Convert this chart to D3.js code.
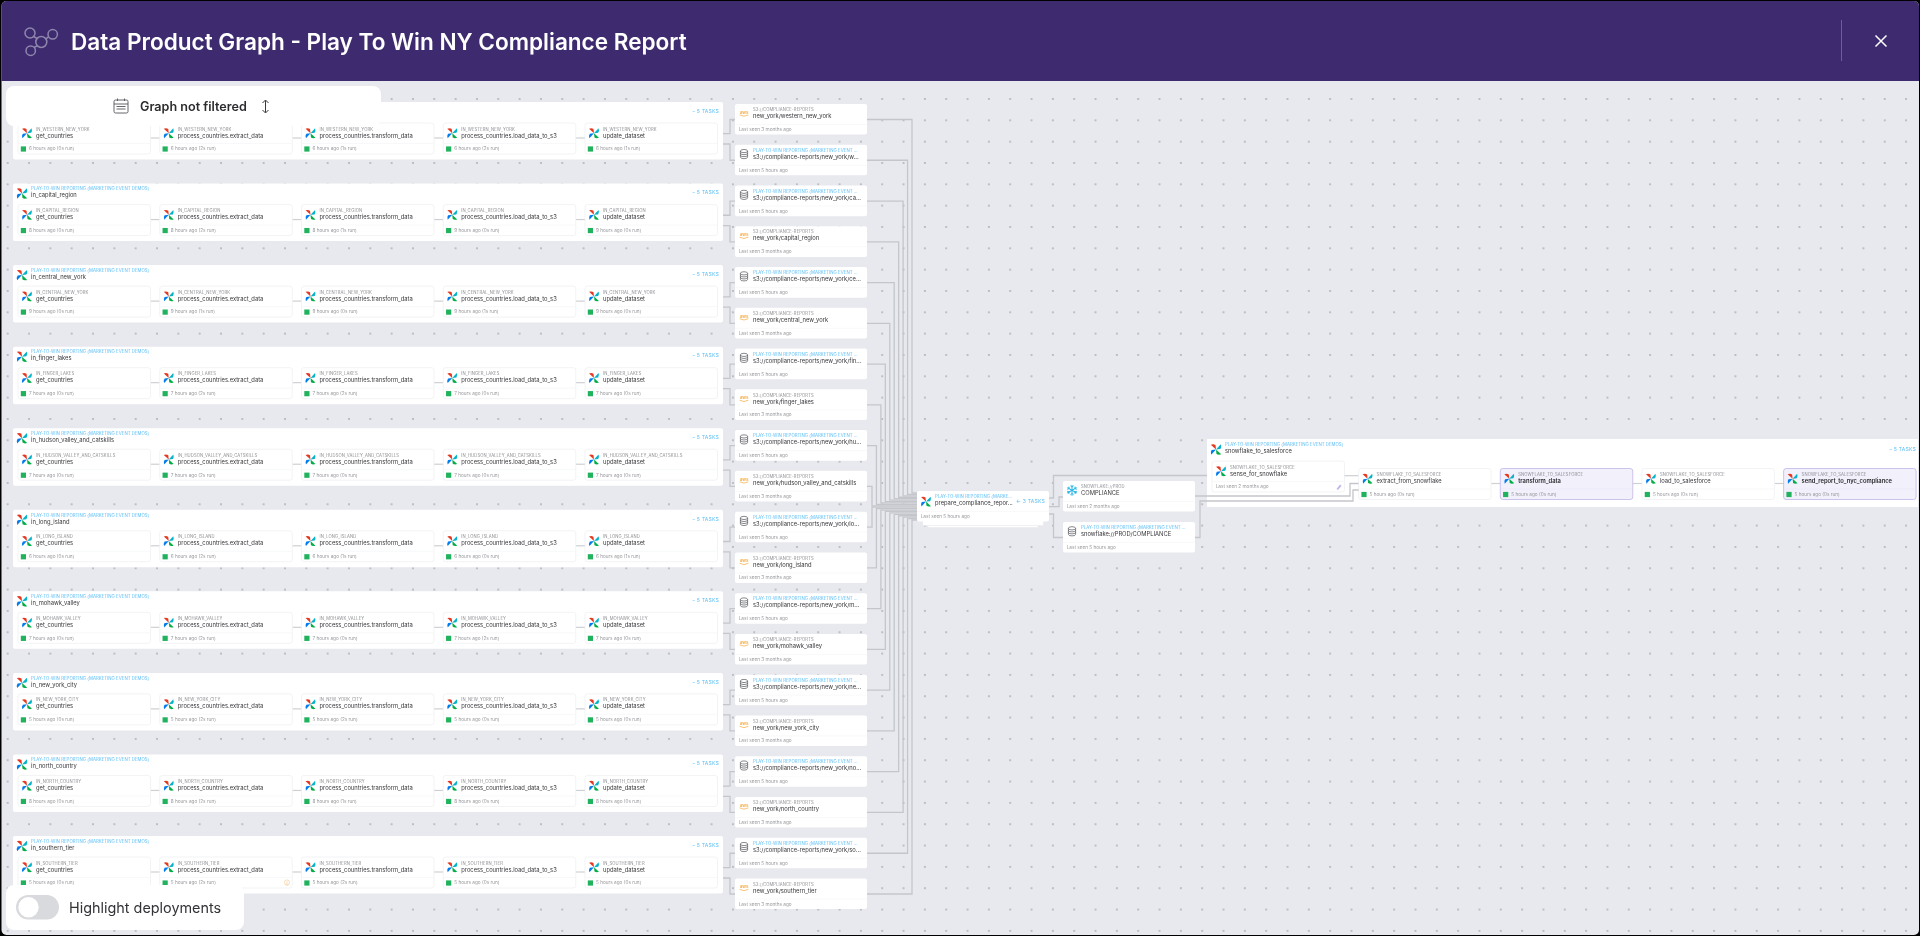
<!DOCTYPE html>
<html>
<head>
<meta charset="utf-8">
<script src="https://cdnjs.cloudflare.com/ajax/libs/d3/7.8.5/d3.min.js"></script>
<style>
  html, body { margin: 0; padding: 0; background: #000; overflow: hidden; }
  svg { display: block; font-family: Inter, "Noto Sans", sans-serif; filter: blur(0.3px); }
  .label  { font-size: 4.35px; fill: #62c0f7; letter-spacing: 0.02px; }
  .sub    { font-size: 4.2px; fill: #8f9095; letter-spacing: 0.1px; }
  .name   { font-size: 5.8px; fill: #38383c; }
  .time   { font-size: 4.7px; fill: #97989c; }
  .tasks  { font-size: 5.1px; fill: #62c0f7; letter-spacing: 0.2px; }
  .bold   { font-weight: 600; fill: #26262a; }
</style>
</head>
<body>
<svg id="chart" width="1920" height="936"></svg>
<script>
const regions = ["western_new_york", "capital_region", "central_new_york", "finger_lakes", "hudson_valley_and_catskills",
  "long_island", "mohawk_valley", "new_york_city", "north_country", "southern_tier"];
const taskNames = ["get_countries", "process_countries.extract_data", "process_countries.transform_data",
  "process_countries.load_data_to_s3", "update_dataset"];
const regionHours = [
  [6, 6, 6, 6, 6], [8, 8, 8, 9, 9], [9, 9, 9, 9, 9], [7, 7, 7, 7, 7], [7, 7, 7, 7, 7],
  [6, 6, 6, 6, 6], [7, 7, 7, 7, 7], [5, 5, 5, 5, 5], [8, 8, 8, 8, 8], [5, 5, 5, 5, 5]
];
const regionRuns = [
  [0, 2, 1, 2, 1], [0, 2, 1, 0, 0], [0, 1, 0, 1, 0], [0, 2, 2, 0, 0], [0, 2, 0, 0, 0],
  [0, 2, 1, 0, 1], [0, 2, 0, 2, 0], [0, 2, 2, 0, 0], [0, 2, 1, 0, 0], [0, 2, 2, 0, 0]
];
const nodeNames = [
  "new_york/western_new_york", "s3://compliance-reports/new_york/w...",
  "s3://compliance-reports/new_york/ca...", "new_york/capital_region",
  "s3://compliance-reports/new_york/ce...", "new_york/central_new_york",
  "s3://compliance-reports/new_york/fin...", "new_york/finger_lakes",
  "s3://compliance-reports/new_york/hu...", "new_york/hudson_valley_and_catskills",
  "s3://compliance-reports/new_york/lo...", "new_york/long_island",
  "s3://compliance-reports/new_york/m...", "new_york/mohawk_valley",
  "s3://compliance-reports/new_york/ne...", "new_york/new_york_city",
  "s3://compliance-reports/new_york/no...", "new_york/north_country",
  "s3://compliance-reports/new_york/so...", "new_york/southern_tier"
];
const bladeColors = ["#e43921", "#04b3c9", "#00ad46", "#017cee"];
const snowTasks = ["extract_from_snowflake", "transform_data", "load_to_salesforce", "send_report_to_nyc_compliance"];
const snowHighlighted = [false, true, false, true];
const GROUP_LABEL = "PLAY-TO-WIN REPORTING (MARKETING EVENT DEMOS)";
const NODE_LABEL = "PLAY-TO-WIN REPORTING (MARKETING EVENT ...";

const svg = d3.select("#chart");

const groupY = d3.scaleLinear().domain([0, 9]).range([102, 836]);
const taskX = d3.scaleLinear().domain([0, 4]).range([18, 585]);
const nodeY = d3.scaleLinear().domain([0, 19]).range([104, 878.5]);
const channelX = d3.scaleLinear().domain([0.5, 9.5]).range([872, 912]);
const fanY = d3.scaleLinear().domain([-9.5, 9.5]).range([493, 520]);
const snowX = d3.scaleLinear().domain([0, 3]).range([1358.6, 1783.6]);

const edgeLine = d3.line();
const CARD_W = 132.5, CARD_H = 31, NODE_W = 132;

function txt(g, x, y, s, cls) {
  return g.append("text").attr("x", x).attr("y", y).attr("class", cls).text(s);
}

function pinwheel(g, x, y, k) {
  const w = g.append("g").attr("transform", `translate(${x},${y}) scale(${k})`);
  w.selectAll("path").data(bladeColors).enter().append("path")
    .attr("d", "M0,0 L-5.2,-4.8 Q-2.4,-5.8 -0.5,-4.4 Z")
    .attr("fill", d => d)
    .attr("transform", (d, i) => `rotate(${i * 90})`);
}

function dbIcon(g, x, y) {
  const w = g.append("g").attr("transform", `translate(${x},${y})`)
    .attr("fill", "none").attr("stroke", "#55565c").attr("stroke-width", 0.7);
  w.append("path").attr("d", "M-3.6,-3 A3.6,1.6 0 0 1 3.6,-3 A3.6,1.6 0 0 1 -3.6,-3 V3 A3.6,1.6 0 0 0 3.6,3 V-3");
  w.append("path").attr("d", "M-3.6,-1 A3.6,1.6 0 0 0 3.6,-1 M-3.6,1 A3.6,1.6 0 0 0 3.6,1");
}

function awsIcon(g, x, y) {
  const w = g.append("g").attr("transform", `translate(${x},${y})`);
  w.append("text").attr("text-anchor", "middle").attr("y", 0.6).attr("font-size", 4.4)
    .attr("font-weight", 700).attr("fill", "#f6b04a").text("aws");
  w.append("path").attr("d", "M-4.4,1.6 Q0,4.2 4.4,1.6").attr("fill", "none").attr("stroke", "#f6a93a").attr("stroke-width", 0.7);
}

function snowIcon(g, x, y) {
  const w = g.append("g").attr("transform", `translate(${x},${y})`)
    .attr("stroke", "#29b5e8").attr("stroke-width", 1).attr("fill", "none");
  w.selectAll("path").data(d3.range(6)).enter().append("path")
    .attr("d", "M0,0 V-5.4 M-1.6,-4.6 L0,-3.2 L1.6,-4.6")
    .attr("transform", d => `rotate(${d * 60})`);
}

// one task card: pinwheel, dag name, task name, status row
function taskCard(g, x, y, sub, name, time, highlighted, w) {
  const c = g.append("g").attr("transform", `translate(${x},${y})`);
  c.append("rect").attr("width", w).attr("height", CARD_H).attr("rx", 2.5)
    .attr("fill", highlighted ? "#f2f0fb" : "#fff")
    .attr("stroke", highlighted ? "#b9ace4" : "#eceef1").attr("stroke-width", 0.7);
  c.append("line").attr("x1", 0.5).attr("x2", w - 0.5).attr("y1", 20.5).attr("y2", 20.5)
    .attr("stroke", highlighted ? "#ebe8f7" : "#f4f5f7").attr("stroke-width", 0.7);
  pinwheel(c, 9, 10.3, 0.95);
  txt(c, 18, 7.5, sub, "sub");
  txt(c, 18, 14.6, name, highlighted ? "name bold" : "name");
  if (time) {
    c.append("rect").attr("x", 2.8).attr("y", 23.4).attr("width", 5.2).attr("height", 5.2).attr("fill", "#20b25c");
    txt(c, 11, 27.3, time, "time");
  }
  return c;
}

function nodeCard(g, x, y, w, label, labelCls, name, seen, icon) {
  const c = g.append("g").attr("transform", `translate(${x},${y})`);
  c.append("rect").attr("width", w).attr("height", 30.6).attr("rx", 2).attr("fill", "#fff");
  c.append("line").attr("x1", 0).attr("x2", w).attr("y1", 20.5).attr("y2", 20.5)
    .attr("stroke", "#f6f7f8").attr("stroke-width", 0.7);
  icon(c, 9, 9.3);
  txt(c, 18, 7.2, label, labelCls);
  txt(c, 18, 14.2, name, "name");
  txt(c, 3.7, 27, seen, "time");
  return c;
}

// page ground
svg.append("rect").attr("x", 1.5).attr("y", 1).attr("width", 1917.5).attr("height", 934).attr("rx", 5).attr("fill", "#e8e9ee");

const defs = svg.append("defs");
const pattern = defs.append("pattern").attr("id", "dots").attr("patternUnits", "userSpaceOnUse")
  .attr("width", 21.33).attr("height", 21.33).attr("x", 7.7 - 10.66).attr("y", 13.68 - 10.66);
pattern.append("circle").attr("cx", 10.66).attr("cy", 10.66).attr("r", 0.8).attr("fill", "#83868e");
svg.append("rect").attr("x", 2).attr("y", 82).attr("width", 1916).attr("height", 853).attr("fill", "url(#dots)");

// edges first so the cards sit over them
const edges = svg.append("g").attr("fill", "none").attr("stroke", "#c4c6cc").attr("stroke-width", 1.3);
function edge(points) { edges.append("path").attr("d", edgeLine(points)); }

const groups = svg.append("g");

regions.forEach(function(region, r) {
  const top = groupY(r);
  const g = groups.append("g");
  g.append("rect").attr("x", 13).attr("y", top).attr("width", 710).attr("height", 57.5).attr("rx", 2).attr("fill", "#fff");
  pinwheel(g, 22, top + 10, 1.0);
  txt(g, 31, top + 6.8, GROUP_LABEL, "label");
  txt(g, 31, top + 13.8, "in_" + region, "name");
  txt(g, 719, top + 10.8, "– 5 TASKS", "tasks").attr("text-anchor", "end");

  const cardTop = top + 21;
  taskNames.forEach(function(task, t) {
    if (t < 4) {
      g.append("line").attr("x1", taskX(t) + CARD_W).attr("x2", taskX(t + 1))
        .attr("y1", cardTop + 15).attr("y2", cardTop + 15)
        .attr("stroke", "#cfd0d4").attr("stroke-width", 1.2);
    }
    const time = `${regionHours[r][t]} hours ago (${regionRuns[r][t]}s run)`;
    taskCard(g, taskX(t), cardTop, "IN_" + region.toUpperCase(), task, time, false, CARD_W);
  });

  // update_dataset feeds its two outputs
  const x0 = taskX(4) + CARD_W;
  [10.7, 21].forEach(function(dy, k) {
    const node = r * 2 + k;
    edge([[x0, cardTop + dy], [730, cardTop + dy], [730, nodeY(node) + 15.5], [735, nodeY(node) + 15.5]]);
  });
});

// outputs fan into prepare_compliance_report
nodeNames.forEach(function(name, i) {
  const off = i - 9.5;
  const cx = channelX(Math.abs(off));
  const y = nodeY(i) + 15.5;
  edge([[867, y], [cx, y], [cx, fanY(off)], [917, fanY(off)]]);
});

const nodes = svg.append("g");
nodeNames.forEach(function(name, i) {
  const isAws = name.startsWith("new_york");
  nodeCard(nodes, 735, nodeY(i), NODE_W,
    isAws ? "S3://COMPLIANCE-REPORTS" : NODE_LABEL,
    isAws ? "sub" : "label", name,
    isAws ? "Last seen 3 months ago" : "Last seen 5 hours ago",
    isAws ? awsIcon : dbIcon);
});

// edges of the right hand side
edge([[1049, 498], [1053.5, 498], [1053.5, 475.5], [1212, 475.5]]);
edge([[1049, 506.7], [1059, 506.7], [1059, 497], [1063, 497]]);
edge([[1049, 514], [1053.5, 514], [1053.5, 537.5], [1063, 537.5]]);

// prepare node with its stack of cards
const stack = svg.append("g");
stack.append("rect").attr("x", 928).attr("y", 523).attr("width", 110).attr("height", 4.7).attr("fill", "#fff").attr("stroke", "#e3e4e8").attr("stroke-width", 0.5);
stack.append("rect").attr("x", 922.6).attr("y", 520).attr("width", 121).attr("height", 5.7).attr("fill", "#fff").attr("stroke", "#e3e4e8").attr("stroke-width", 0.5);
const prep = nodeCard(svg, 917, 491, 132, "PLAY-TO-WIN REPORTING (MARKE...", "label", "prepare_compliance_repor...", "Last seen 5 hours ago", (c, x, y) => pinwheel(c, x, y + 1.3, 0.95));
txt(prep, 128, 11.5, "← 3 TASKS", "tasks").attr("text-anchor", "end");

nodeCard(svg, 1063, 481, 132, "SNOWFLAKE://PROD", "sub", "COMPLIANCE", "Last seen 2 months ago", snowIcon);
nodeCard(svg, 1063, 522, 132, NODE_LABEL, "label", "snowflake://PROD/COMPLIANCE", "Last seen 5 hours ago", dbIcon);

// snowflake_to_salesforce group
const sg = svg.append("g");
sg.append("rect").attr("x", 1207).attr("y", 439).attr("width", 711).attr("height", 68).attr("fill", "#fff");
pinwheel(sg, 1216, 449.5, 1.0);
txt(sg, 1225, 446, GROUP_LABEL, "label");
txt(sg, 1225, 452.8, "snowflake_to_salesforce", "name");
txt(sg, 1916, 451, "– 5 TASKS", "tasks").attr("text-anchor", "end");

const SNOW_DAG = "SNOWFLAKE_TO_SALESFORCE";
const sense = taskCard(sg, 1212, 461, SNOW_DAG, "sense_for_snowflake", null, false, CARD_W);
txt(sense, 3.7, 27.1, "Last seen 2 months ago", "time");
sense.append("path").attr("d", "M124.5,28 L128,23.5 L129.6,24.8 L126,29 Z").attr("fill", "#c3b6ea");

sg.append("line").attr("x1", 1344.5).attr("x2", 1358.6).attr("y1", 475.7).attr("y2", 475.7)
  .attr("stroke", "#cfd0d4").attr("stroke-width", 1.2);

snowTasks.forEach(function(task, t) {
  if (t < 3) {
    sg.append("line").attr("x1", snowX(t) + CARD_W).attr("x2", snowX(t + 1)).attr("y1", 483.5).attr("y2", 483.5)
      .attr("stroke", "#cfd0d4").attr("stroke-width", 1.2);
  }
  taskCard(sg, snowX(t), 468.5, SNOW_DAG, task, "5 hours ago (0s run)", snowHighlighted[t], CARD_W);
});

const lateEdges = svg.append("g").attr("fill", "none").attr("stroke", "#c4c6cc").attr("stroke-width", 1.3);
lateEdges.append("path").attr("d", edgeLine([[1195, 496], [1350, 496], [1350, 483.5], [1358.6, 483.5]]));
lateEdges.append("path").attr("d", edgeLine([[1195, 537.5], [1200, 537.5], [1200, 501], [1353, 501], [1353, 490], [1358.6, 490]]));

// small warning mark on the southern_tier extract card
const warn = svg.append("g").attr("transform", "translate(287,882.5)").attr("fill", "none").attr("stroke", "#f5c68a").attr("stroke-width", 0.6);
warn.append("circle").attr("r", 2.6);
warn.append("path").attr("d", "M0,-1.2 V3.4");

// header bar
const header = svg.append("g");
header.append("path").attr("d", "M1.5,81 V6 A5,5 0 0 1 6.5,1 H1914 A5,5 0 0 1 1919,6 V81 Z").attr("fill", "#3e2a6f");
const hubs = [[30, 33, 5], [52.7, 34.3, 4.7], [41.3, 42, 5.5], [30.7, 50.7, 4.7]];
const hub = header.append("g").attr("fill", "none").attr("stroke", "#8f86ad").attr("stroke-width", 1.5);
hub.append("path").attr("d", "M33.5,36.5 L37.5,38.7 M48.6,36.6 L45.6,39.3 M37.4,45.6 L34.2,47.5");
hub.selectAll("circle").data(hubs).enter().append("circle")
  .attr("cx", d => d[0]).attr("cy", d => d[1]).attr("r", d => d[2]);
header.append("text").attr("x", 71).attr("y", 49.5).attr("fill", "#fff").attr("font-size", 22.55).attr("font-weight", 600)
  .text("Data Product Graph - Play To Win NY Compliance Report");
header.append("line").attr("x1", 1841.5).attr("x2", 1841.5).attr("y1", 20).attr("y2", 61).attr("stroke", "#6d5f96").attr("stroke-width", 1);
header.append("path").attr("d", "M1875.5,35.5 L1886.5,46.5 M1886.5,35.5 L1875.5,46.5").attr("stroke", "#fff").attr("stroke-width", 1.5);

// filter panel
const panel = svg.append("g");
panel.append("rect").attr("x", 6).attr("y", 86).attr("width", 375).attr("height", 40).attr("rx", 8).attr("fill", "#fff");
const cal = panel.append("g").attr("fill", "none").attr("stroke", "#55565c").attr("stroke-width", 0.9);
cal.append("rect").attr("x", 114).attr("y", 100).attr("width", 14).attr("height", 13).attr("rx", 1.5);
cal.append("path").attr("d", "M114,104 H128 M117.5,98.5 V101 M124.5,98.5 V101 M116.5,106.5 H125.5 M116.5,109 H125.5");
panel.append("text").attr("x", 140).attr("y", 111).attr("fill", "#2c2c30").attr("font-size", 12.6).attr("font-weight", 600).text("Graph not filtered");
panel.append("path").attr("d", "M265.5,100.5 V112.5 M262.5,103 L265.5,100 L268.5,103 M262.5,110 L265.5,113 L268.5,110")
  .attr("fill", "none").attr("stroke", "#3a3a3e").attr("stroke-width", 1);

// deployments toggle
const toggle = svg.append("g");
toggle.append("rect").attr("x", 6).attr("y", 885).attr("width", 238).attr("height", 45).attr("rx", 8).attr("fill", "#fff");
toggle.append("rect").attr("x", 16).attr("y", 895).attr("width", 43).attr("height", 24.5).attr("rx", 12.25).attr("fill", "#d9dade");
toggle.append("circle").attr("cx", 28.5).attr("cy", 907.2).attr("r", 10.2).attr("fill", "#fff");
toggle.append("text").attr("x", 69).attr("y", 913).attr("fill", "#333338").attr("font-size", 14.4).text("Highlight deployments");
</script>
</body>
</html>
